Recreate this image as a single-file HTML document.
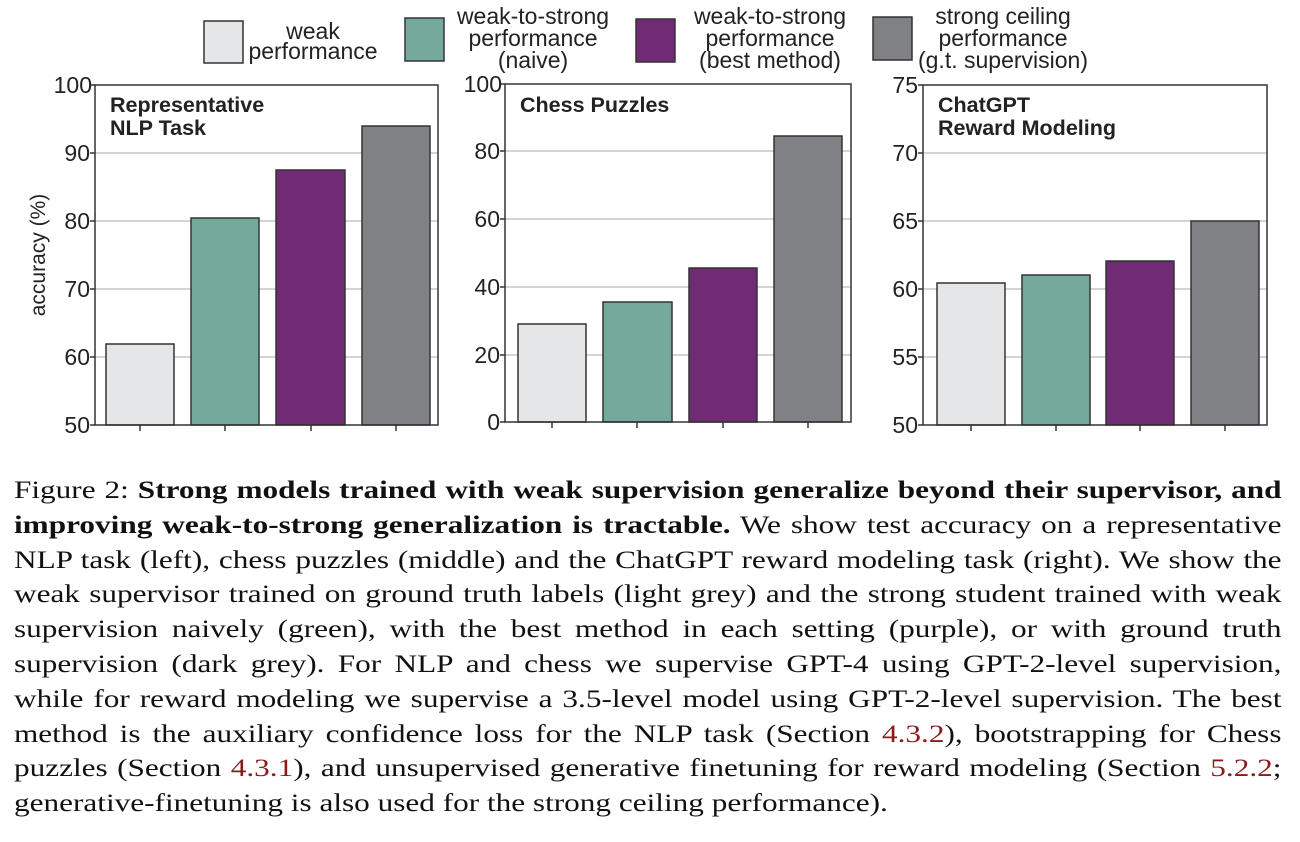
<!DOCTYPE html>
<html><head><meta charset="utf-8"><style>
html,body{margin:0;padding:0;background:#fff;width:1300px;height:842px;overflow:hidden}
.cap{position:absolute;left:14px;width:1014px;top:474px;font-family:"Liberation Serif",serif;font-size:25px;color:#111;transform:scaleX(1.25);transform-origin:0 0}
.cap div{height:34.8px;line-height:34.8px;text-align:justify;text-align-last:justify;white-space:nowrap}
.cap div.l{text-align-last:left}
.cap span.r{color:#8b1a1a}
svg text{font-family:"Liberation Sans Narrow","Liberation Sans",sans-serif}
</style></head><body>
<svg width="1300" height="470" style="position:absolute;left:0;top:0" xmlns="http://www.w3.org/2000/svg">
<g font-size="23" fill="#222" text-anchor="middle">
<rect x="204" y="21" width="39" height="42" fill="#e5e6e8" stroke="#333" stroke-width="1.5"/>
<text x="313" y="39">weak</text><text x="313" y="59">performance</text>
<rect x="405" y="18" width="39" height="43" fill="#74a99c" stroke="#333" stroke-width="1.5"/>
<text x="533" y="24">weak-to-strong</text><text x="533" y="46">performance</text><text x="533" y="68">(naive)</text>
<rect x="636" y="19" width="39" height="43" fill="#712b75" stroke="#333" stroke-width="1.5"/>
<text x="770" y="24">weak-to-strong</text><text x="770" y="46">performance</text><text x="770" y="68">(best method)</text>
<rect x="873" y="17" width="39" height="43" fill="#808185" stroke="#333" stroke-width="1.5"/>
<text x="1003" y="24">strong ceiling</text><text x="1003" y="46">performance</text><text x="1003" y="68">(g.t. supervision)</text>
</g>
<g stroke="#bbb" stroke-width="1.2">
<line x1="95" x2="438" y1="153" y2="153"/><line x1="95" x2="438" y1="221" y2="221"/><line x1="95" x2="438" y1="289" y2="289"/><line x1="95" x2="438" y1="357" y2="357"/>
<line x1="505" x2="851" y1="151" y2="151"/><line x1="505" x2="851" y1="219" y2="219"/><line x1="505" x2="851" y1="287" y2="287"/><line x1="505" x2="851" y1="355" y2="355"/>
<line x1="923" x2="1267" y1="153" y2="153"/><line x1="923" x2="1267" y1="221" y2="221"/><line x1="923" x2="1267" y1="289" y2="289"/><line x1="923" x2="1267" y1="357" y2="357"/>
</g>
<g stroke="#333" stroke-width="1.5">
<rect x="106" y="344" width="68" height="81" fill="#e5e6e8"/>
<rect x="191" y="218" width="68" height="207" fill="#74a99c"/>
<rect x="276" y="170" width="69" height="255" fill="#712b75"/>
<rect x="362" y="126" width="68" height="299" fill="#808185"/>
<rect x="518" y="324" width="68" height="98" fill="#e5e6e8"/>
<rect x="603" y="302" width="69" height="120" fill="#74a99c"/>
<rect x="689" y="268" width="68" height="154" fill="#712b75"/>
<rect x="774" y="136" width="68" height="286" fill="#808185"/>
<rect x="937" y="283" width="68" height="142" fill="#e5e6e8"/>
<rect x="1022" y="275" width="68" height="150" fill="#74a99c"/>
<rect x="1106" y="261" width="68" height="164" fill="#712b75"/>
<rect x="1191" y="221" width="68" height="204" fill="#808185"/>
</g>
<g fill="none" stroke="#333" stroke-width="1.5">
<rect x="95" y="85" width="343" height="340"/>
<rect x="505" y="84" width="346" height="338"/>
<rect x="923" y="85" width="344" height="340"/>
<path d="M140 425v6M225 425v6M311 425v6M396 425v6M552 422v6M637 422v6M723 422v6M808 422v6M971 425v6M1056 425v6M1140 425v6M1225 425v6M90 85h5M90 153h5M90 221h5M90 289h5M90 357h5M90 425h5M500 84h5M500 151h5M500 219h5M500 287h5M500 355h5M500 422h5M918 85h5M918 153h5M918 221h5M918 289h5M918 357h5M918 425h5"/>
</g>
<g font-size="23" fill="#222" text-anchor="end">
<text x="92" y="93">100</text><text x="90" y="161">90</text><text x="90" y="229">80</text><text x="90" y="297">70</text><text x="90" y="365">60</text><text x="90" y="433">50</text>
<text x="502" y="92">100</text><text x="500" y="159">80</text><text x="500" y="227">60</text><text x="500" y="295">40</text><text x="500" y="363">20</text><text x="500" y="430">0</text>
<text x="918" y="93">75</text><text x="918" y="161">70</text><text x="918" y="229">65</text><text x="918" y="297">60</text><text x="918" y="365">55</text><text x="918" y="433">50</text>
</g>
<text x="45" y="255" font-size="21" fill="#222" text-anchor="middle" transform="rotate(-90 45 255)">accuracy (%)</text>
<g font-size="21.5" font-weight="bold" fill="#222">
<text x="110" y="112">Representative</text><text x="110" y="135">NLP Task</text>
<text x="520" y="112">Chess Puzzles</text>
<text x="938" y="112">ChatGPT</text><text x="938" y="135">Reward Modeling</text>
</g>
</svg>
<div class="cap">
<div>Figure 2: <b>Strong models trained with weak supervision generalize beyond their supervisor, and</b></div>
<div><b>improving weak-to-strong generalization is tractable.</b> We show test accuracy on a representative</div>
<div>NLP task (left), chess puzzles (middle) and the ChatGPT reward modeling task (right). We show the</div>
<div>weak supervisor trained on ground truth labels (light grey) and the strong student trained with weak</div>
<div>supervision naively (green), with the best method in each setting (purple), or with ground truth</div>
<div>supervision (dark grey). For NLP and chess we supervise GPT-4 using GPT-2-level supervision,</div>
<div>while for reward modeling we supervise a 3.5-level model using GPT-2-level supervision. The best</div>
<div>method is the auxiliary confidence loss for the NLP task (Section <span class="r">4.3.2</span>), bootstrapping for Chess</div>
<div>puzzles (Section <span class="r">4.3.1</span>), and unsupervised generative finetuning for reward modeling (Section <span class="r">5.2.2</span>;</div>
<div class="l">generative-finetuning is also used for the strong ceiling performance).</div>
</div>
</body></html>
